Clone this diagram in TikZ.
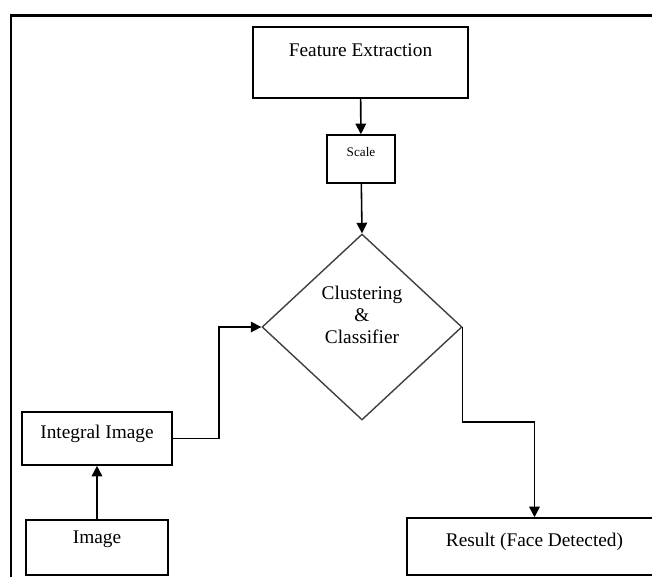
\documentclass[tikz,border=0pt]{standalone}
\usepackage{fontspec}
\setmainfont{Liberation Serif}
\usetikzlibrary{positioning,arrows.meta,shapes.geometric}

\begin{document}
\begin{tikzpicture}[x=0.02cm, y=-0.02cm, >={Triangle[width=6pt,length=6pt]},
  box/.style={draw, line width=0.9pt, inner sep=0pt, align=center,
              font=\fontsize{11}{13}\selectfont},
  decision/.style={diamond, draw=black!75, line width=0.8pt, inner sep=0pt, align=center,
              font=\fontsize{11}{12.5}\selectfont},
  arr/.style={->, line width=0.9pt}]
  \useasboundingbox (0,0) rectangle (652,576);
  \clip (0,0) rectangle (652,576);
  % outer frame (cut by the page)
  \draw[line width=1.7pt] (11,15) rectangle (700,620);

  \node[box, minimum width=4.3cm, text height=0.59cm, text depth=0.83cm] (feat) at (360.5,62.5) {Feature Extraction};
  \node[box, minimum width=1.36cm, text height=0.43cm, text depth=0.53cm,
        font=\fontsize{7.5}{9}\selectfont] (scale) at (361,159) {Scale};
  \node[decision, minimum width=4cm, minimum height=3.72cm, text depth=0.49cm] (clf) at (362,327)
        {Clustering\\\&\\Classifier};
  \node[box, minimum width=3cm, text height=0.53cm, text depth=0.53cm] (integ) at (97,438.5) {Integral Image};
  \node[box, minimum width=2.84cm, text height=0.47cm, text depth=0.63cm] (img) at (97,547.5) {Image};
  \node[box, minimum width=5.1cm, text height=0.57cm, text depth=0.57cm] (res) at (534.5,546.5) {Result (Face Detected)};

  \draw[arr] (feat) -- (scale);
  \draw[arr] (scale) -- (clf.north);
  \draw[arr] (img) -- (integ);
  \draw[arr] (integ.east) -- ++(46,0) |- (clf.west);
  \draw[arr] (clf.east) -- ++(0,95) -| (res.north);
\end{tikzpicture}
\end{document}
